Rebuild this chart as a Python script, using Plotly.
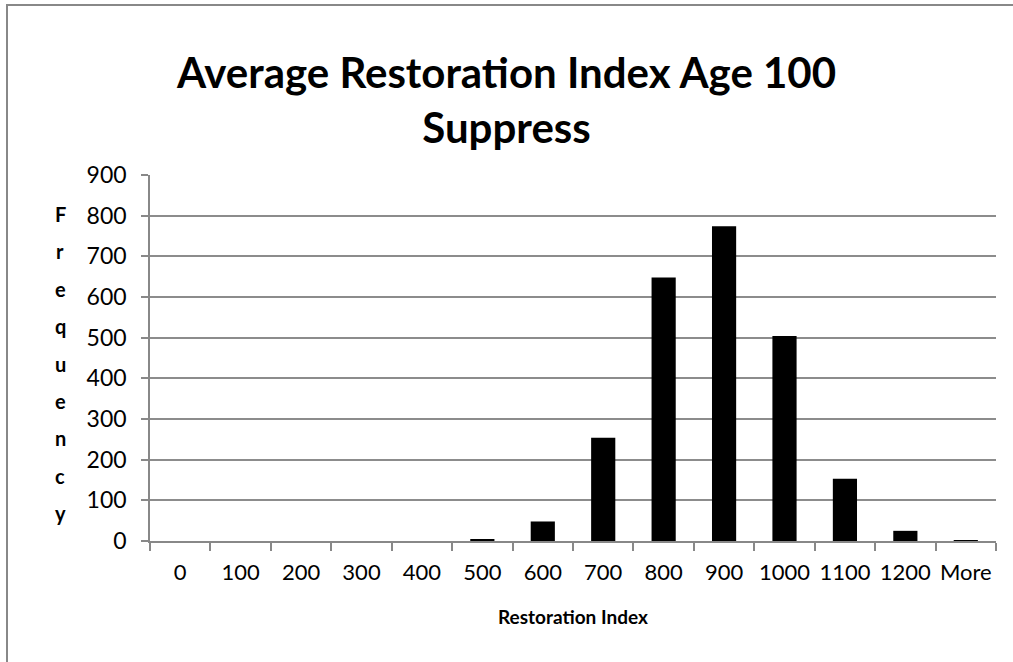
import plotly.graph_objects as go

categories = ["0", "100", "200", "300", "400", "500", "600", "700", "800", "900", "1000", "1100", "1200", "More"]
frequency = [0, 0, 0, 0, 0, 3, 48, 254, 648, 774, 504, 153, 25, 1]
y_ticks = [0, 100, 200, 300, 400, 500, 600, 700, 800, 900]
title_text = "Average Restoration Index Age 100<br>Suppress"
x_title = "Restoration Index"
y_title = "Frequency"

FONT = "Lato, 'Open Sans', sans-serif"
W, H = 1013, 662
L, R, T, B = 150, 17, 175, 121
pw, ph = W - L - R, H - T - B

def px_x(x):
    return (x - L) / pw

def px_y(y):
    return (H - B - y) / ph

fig = go.Figure()
fig.add_trace(go.Bar(
    x=categories, y=frequency,
    marker=dict(color="black", line=dict(width=0)),
    width=0.4,
))

fig.update_layout(
    width=W, height=H,
    margin=dict(l=L, r=R, t=T, b=B, autoexpand=False),
    paper_bgcolor="white", plot_bgcolor="white",
    showlegend=False,
    title=dict(text="<b>" + title_text + "</b>", x=0.5, xanchor="center",
               y=(H - 88) / H, yanchor="middle",
               font=dict(family=FONT, size=42, color="black")),
    font=dict(family=FONT, size=22, color="black"),
    xaxis=dict(
        type="category", showline=True, linecolor="#888888", linewidth=1.5,
        ticks="outside", ticklen=8, tickcolor="#888888", tickwidth=1.5,
        tickson="boundaries", showgrid=False, ticklabelstandoff=11,
        tickangle=0, automargin=False,
        tickfont=dict(family=FONT, size=22, color="black"),
    ),
    yaxis=dict(
        range=[0, 900], tickvals=y_ticks, showline=True, linecolor="#888888",
        linewidth=1.5, ticks="outside", ticklen=7, tickcolor="#888888", tickwidth=1.5,
        showgrid=True, gridcolor="#8c8c8c", gridwidth=1.5, zeroline=False,
        ticklabelstandoff=10, automargin=False,
        tickfont=dict(family=FONT, size=23, color="black"),
    ),
    shapes=[dict(type="rect", xref="paper", yref="paper", x0=px_x(7), x1=px_x(1030),
                 y0=px_y(700), y1=px_y(5), line=dict(color="#888888", width=2), layer="below")],
)

fig.add_annotation(text="<b>" + x_title + "</b>", xref="paper", yref="paper",
                   x=0.5, y=px_y(616), yanchor="middle", showarrow=False,
                   font=dict(family=FONT, size=19, color="black"))

letter_y0, letter_step = 214, 37.4
for i, ch in enumerate(y_title):
    fig.add_annotation(text="<b>" + ch + "</b>", xref="paper", yref="paper",
                       x=px_x(60), xanchor="center", y=px_y(letter_y0 + i * letter_step),
                       yanchor="middle", showarrow=False,
                       font=dict(family=FONT, size=20, color="black"))

fig.write_html("out.html", config={"displayModeBar": False},
               post_script="document.body.style.margin='0px';")
